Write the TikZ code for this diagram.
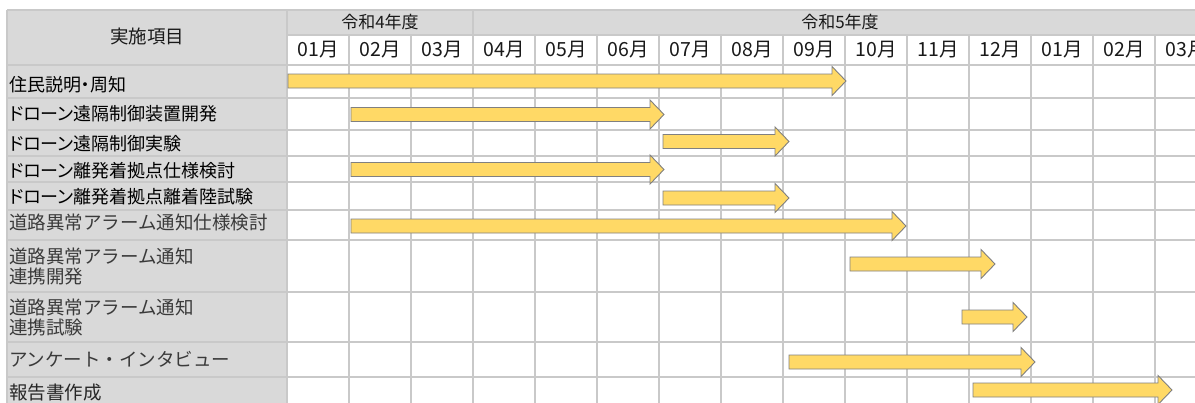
\documentclass[tikz,border=0pt]{standalone}
\usepackage{fontspec}
\setmainfont{Noto Sans CJK JP}
\newfontfamily\propfont[RawFeature=+palt]{Noto Sans CJK JP}
\definecolor{gridc}{HTML}{C9C9C9}
\definecolor{hdrc}{HTML}{D9D9D9}
\definecolor{barfill}{HTML}{FFD966}
\definecolor{barline}{HTML}{808080}
\definecolor{txtgray}{HTML}{3A3A3A}
\newcommand{\gbar}[3]{%
  \draw[ganttbar] (#1,#3-7) -- (#2-14,#3-7) -- (#2-14,#3-14.5) -- (#2,#3)
    -- (#2-14,#3+14.5) -- (#2-14,#3+7) -- (#1,#3+7) -- cycle;}
\tikzset{
  gline/.style={draw=gridc, line width=1.3pt},
  ganttbar/.style={fill=barfill, draw=barline, line width=0.9pt, line join=miter},
  lbl/.style={anchor=west, inner sep=0pt, font=\propfont\fontsize{18}{20}\selectfont, text=black},
  lblb/.style={anchor=west, inner sep=0pt, font=\fontsize{18.5}{20}\selectfont, text=txtgray, align=left},
  month/.style={inner sep=0pt, font=\fontsize{19.5}{22}\selectfont, text=black!90},
  year/.style={inner sep=0pt, font=\fontsize{17}{20}\selectfont, text=black!90},
}
\begin{document}
\begin{tikzpicture}[x=1pt, y=-1pt]
\useasboundingbox (0,0) rectangle (1195,402);
% backgrounds
\fill[white] (0,0) rectangle (1195,402);
\fill[hdrc] (7,10) rectangle (287,410);
\fill[hdrc] (287,10) rectangle (1220,35);
% horizontal grid lines
\draw[gline] (7,10) -- (1220,10);
\draw[gline] (287,35) -- (1220,35);
\foreach \yy in {65,98,130,156,182,210,240,292,342,377}
  \draw[gline] (7,\yy) -- (1220,\yy);
% vertical grid lines
\draw[gline] (7,10) -- (7,410);
\draw[gline] (287,10) -- (287,410);
\draw[gline] (473,10) -- (473,410);
\foreach \k in {1,...,14}
  \draw[gline] (287+62*\k,35) -- (287+62*\k,410);
% header texts
\node[font=\fontsize{18.5}{22}\selectfont, text=black!90, inner sep=0pt] (hd) at (147,36) {実施項目};
\node[year] (y4) at (380,22) {令和4年度};
\node[year] (y5) at (840,22) {令和5年度};
\foreach \m [count=\k] in {01,02,03,04,05,06,07,08,09,10,11,12,01,02,03}
  \node[month] (m\k) at (287+62*\k-31,50) {\m 月};
% row labels
\node[lbl] (r1) at (9,85) {住民説明・周知};
\node[lbl] (r2) at (9,114) {ドローン遠隔制御装置開発};
\node[lbl] (r3) at (9,143.5) {ドローン遠隔制御実験};
\node[lbl] (r4) at (9,170.5) {ドローン離発着拠点仕様検討};
\node[lbl] (r5) at (9,197) {ドローン離発着拠点離着陸試験};
\node[lblb] (r6) at (9,223) {道路異常アラーム通知仕様検討};
\node[lblb] (r7a) at (9,256.5) {道路異常アラーム通知};
\node[lblb] (r7b) at (9,276.5) {連携開発};
\node[lblb] (r8a) at (9,307) {道路異常アラーム通知};
\node[lblb] (r8b) at (9,327) {連携試験};
\node[lblb] (r9) at (9,359.5) {アンケート・インタビュー};
\node[lblb, text=black!85] (r10) at (9,393) {報告書作成};
% gantt bars
\gbar{288}{846}{81}
\gbar{351}{664}{114.5}
\gbar{663}{789}{141.5}
\gbar{351}{664}{169.5}
\gbar{663}{789}{198}
\gbar{351}{906}{226}
\gbar{850}{995}{264}
\gbar{962}{1027}{317}
\gbar{789}{1035}{362}
\gbar{973}{1172}{390}
\end{tikzpicture}
\end{document}
